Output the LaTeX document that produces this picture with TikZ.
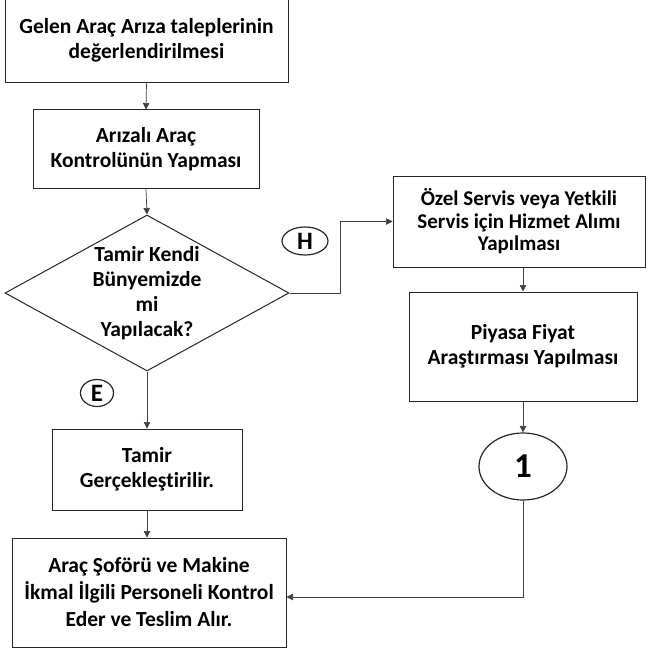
\documentclass[tikz,border=0pt]{standalone}
\usepackage{fontspec}
\setmainfont{Carlito}[Ligatures=NoCommon]
\usetikzlibrary{shapes.geometric,arrows.meta}

\begin{document}
\begin{tikzpicture}[x=1pt,y=-1pt,
  every node/.style={font=\bfseries\fontsize{21.5}{25}\selectfont, align=center},
  kutu/.style={draw=black!85, line width=1pt, inner sep=0pt},
  halka/.style={kutu, ellipse, line width=1.2pt, font=\bfseries\fontsize{25}{28}\selectfont},
  ok/.style={draw=black!75, line width=0.7pt, -{Triangle[width=6.5pt,length=6.5pt]}}]
\useasboundingbox (0,0) rectangle (647,663);
\node[kutu, minimum width=283, minimum height=85] (B1) at (146.5,40.5) {Gelen Araç Arıza taleplerinin\\değerlendirilmesi};
\node[kutu, minimum width=226, minimum height=78] (B2) at (146,149) {Arızalı Araç\\Kontrolünün Yapması};
\node[kutu, diamond, aspect=1.82, minimum width=284, minimum height=156] (D1) at (147,293) {Tamir Kendi\\Bünyemizde\\mi\\Yapılacak?};
\node[halka, minimum width=33, minimum height=27] (E) at (97,393) {E};
\node[kutu, minimum width=190, minimum height=81] (B3) at (147,469.5) {Tamir\\Gerçekleştirilir.};
\node[kutu, minimum width=274, minimum height=109, font=\bfseries\fontsize{21.5}{27}\selectfont] (B4) at (149,592.5) {Araç Şoförü ve Makine\\İkmal İlgili Personeli Kontrol\\Eder ve Teslim Alır.};
\node[halka, minimum width=46, minimum height=28] (H) at (305,241) {H};
\node[kutu, minimum width=252, minimum height=91, font=\bfseries\fontsize{21}{22.5}\selectfont] (B5) at (519,221.5) {Özel Servis veya Yetkili\\Servis için Hizmet Alımı\\Yapılması};
\node[kutu, minimum width=228, minimum height=109] (B6) at (523,346.5) {Piyasa Fiyat\\Araştırması Yapılması};
\node[halka, minimum width=88, minimum height=67, font=\bfseries\fontsize{35}{38}\selectfont] (C1) at (523,466.5) {1};
\coordinate (Hd) at (340,293);
\draw[ok] (B1.south) -- (B2.north);
\draw[ok] (B2.south) -- (D1.north);
\draw[ok] (D1.south) -- (B3.north);
\draw[ok] (B3.south) -- (B3.south |- B4.north);
\draw[ok] (D1.east) -- (Hd) |- (B5.west);
\draw[ok] (B6.north |- B5.south) -- (B6.north);
\draw[ok] (B6.south) -- (C1.north);
\draw[ok] (C1.south) |- ([yshift=-4.5pt]B4.east);
\end{tikzpicture}
\end{document}
